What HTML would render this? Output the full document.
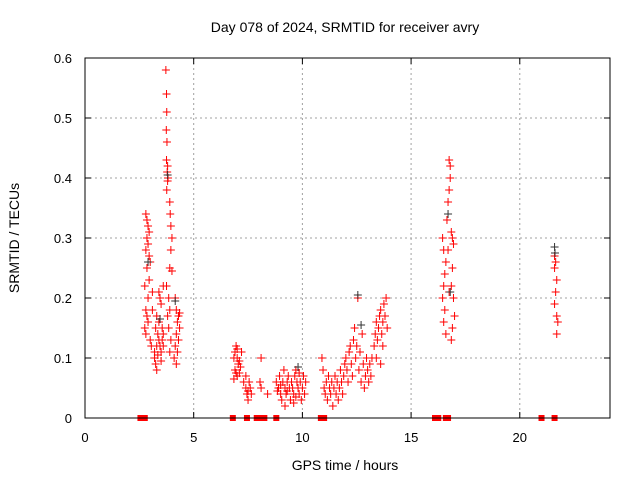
<!DOCTYPE html>
<html><head><meta charset="utf-8"><style>
body{margin:0;background:#fff}
svg{display:block;font-family:"Liberation Sans",sans-serif}
</style></head><body>
<svg id="chart" width="640" height="480">
<text x="345" y="32" font-size="14" text-anchor="middle">Day 078 of 2024, SRMTID for receiver avry</text>
<text x="345" y="470" font-size="14" text-anchor="middle">GPS time / hours</text>
<text transform="translate(19,238) rotate(-90)" font-size="14" text-anchor="middle">SRMTID / TECUs</text>
<g id="grid"></g>
<g id="ticks"></g>
<g id="marks"></g>
<g id="marksB"></g>
<rect x="85" y="58" width="525" height="360" fill="none" stroke="#000"/>
</svg>
<script>
const xTicks=[0,5,10,15,20];
const yTicks=[0,0.1,0.2,0.3,0.4,0.5,0.6];
const yTickLabels=["0","0.1","0.2","0.3","0.4","0.5","0.6"];
const zeroHours=[2.55,2.65,2.75,6.8,7.45,7.9,8.05,8.25,8.8,10.85,11.0,16.1,16.25,16.6,16.7,21.0,21.6];
const redPoints=[
[2.8,0.34],[2.85,0.33],[2.9,0.32],[2.95,0.31],[2.85,0.3],[2.9,0.29],[2.8,0.28],[2.95,0.27],[2.85,0.25],[2.95,0.23],[2.75,0.22],[2.9,0.2],[2.8,0.18],[2.85,0.17],[2.9,0.16],[2.75,0.15],[2.8,0.14],[3.0,0.13],[3.05,0.12],[3.0,0.26],[3.1,0.21],[3.1,0.18],
[3.2,0.1],[3.25,0.09],[3.3,0.08],[3.2,0.11],[3.3,0.12],[3.4,0.13],[3.35,0.14],[3.25,0.15],[3.4,0.16],[3.3,0.17],[3.45,0.12],[3.5,0.11],[3.55,0.13],[3.5,0.19],[3.4,0.21],[3.6,0.22],[3.45,0.2],[3.55,0.15],[3.6,0.14],[3.35,0.105],[3.5,0.095],[3.6,0.12],
[3.72,0.58],[3.75,0.54],[3.76,0.51],[3.74,0.48],[3.77,0.46],[3.75,0.43],[3.8,0.42],[3.78,0.41],[3.82,0.4],[3.8,0.395],[3.76,0.38],
[3.9,0.36],[3.92,0.34],[3.95,0.32],[4.0,0.3],[3.95,0.28],[3.9,0.25],[4.0,0.245],[3.85,0.2],[3.9,0.18],[3.85,0.15],[3.95,0.13],[3.9,0.11],[3.8,0.17],[3.75,0.22],
[4.15,0.2],[4.2,0.18],[4.3,0.17],[4.25,0.16],[4.35,0.15],[4.2,0.14],[4.3,0.13],[4.15,0.12],[4.25,0.11],[4.1,0.1],[4.2,0.09],[4.35,0.175],
[6.85,0.1],[6.9,0.11],[6.95,0.12],[7.0,0.1],[7.05,0.09],[6.9,0.08],[7.0,0.07],[7.1,0.075],[6.85,0.065],[7.15,0.085],[7.2,0.11],[7.1,0.095],[7.0,0.115],[6.95,0.075],
[7.3,0.06],[7.4,0.05],[7.45,0.04],[7.5,0.03],[7.55,0.06],[7.6,0.05],[7.4,0.07],[7.5,0.045],[7.65,0.04],[8.1,0.1],[8.05,0.06],[8.1,0.05],[8.4,0.04],
[8.8,0.06],[8.9,0.05],[8.95,0.07],[9.0,0.04],[9.05,0.03],[9.1,0.06],[9.15,0.08],[9.2,0.05],[9.25,0.04],[9.3,0.06],[9.35,0.07],[9.4,0.05],[9.45,0.03],[9.5,0.06],[9.55,0.05],[9.6,0.04],[9.65,0.07],[9.7,0.08],[9.75,0.06],[9.8,0.05],[9.85,0.04],[9.9,0.06],[9.95,0.03],[10.0,0.05],[10.1,0.04],[10.15,0.06],[9.2,0.02],[9.6,0.025],[9.0,0.055],[9.3,0.045],[9.7,0.035],[10.05,0.07],[9.85,0.075],[8.85,0.045],
[10.9,0.1],[10.95,0.08],[11.0,0.05],[11.05,0.04],[11.1,0.06],[11.15,0.03],[11.2,0.07],[11.25,0.05],[11.3,0.04],[11.35,0.06],[11.4,0.02],[11.45,0.05],[11.5,0.07],[11.55,0.04],[11.6,0.06],[11.65,0.03],[11.7,0.05],[11.75,0.08],[11.8,0.06],[11.85,0.04],[11.9,0.07],[11.95,0.09],[12.0,0.1],[12.05,0.08],[12.1,0.06],[12.15,0.11],[12.2,0.12],[12.25,0.09],[12.3,0.07],[12.35,0.13],[12.4,0.15],[12.45,0.1],[12.5,0.12],[12.55,0.2],[12.6,0.08],[12.65,0.11],[12.7,0.06],[12.75,0.14],[12.8,0.09],[12.85,0.05],[12.9,0.07],[12.95,0.1],[13.0,0.08],[13.05,0.06],[13.1,0.09],[13.15,0.07],[13.2,0.1],
[13.3,0.12],[13.35,0.14],[13.4,0.16],[13.45,0.13],[13.5,0.15],[13.55,0.17],[13.6,0.18],[13.65,0.14],[13.7,0.16],[13.75,0.19],[13.8,0.17],[13.85,0.2],[13.4,0.1],[13.6,0.09],[13.7,0.12],[13.9,0.15],
[16.45,0.3],[16.5,0.28],[16.55,0.24],[16.5,0.22],[16.45,0.2],[16.55,0.18],[16.5,0.16],[16.6,0.14],[16.6,0.26],[16.65,0.33],[16.7,0.36],[16.75,0.38],[16.75,0.43],[16.8,0.42],[16.8,0.4],[16.85,0.31],[16.9,0.3],[16.95,0.29],[16.9,0.25],[16.85,0.22],[16.95,0.2],[17.0,0.17],[16.9,0.15],[16.85,0.13],[16.7,0.28],[16.75,0.21],
[21.6,0.27],[21.65,0.26],[21.6,0.25],[21.7,0.23],[21.65,0.21],[21.6,0.19],[21.7,0.17],[21.75,0.16],[21.7,0.14]];
const blackPoints=[[2.9,0.26],[3.45,0.165],[3.8,0.405],[4.15,0.195],[9.8,0.085],[12.55,0.205],[12.7,0.155],[16.7,0.34],[16.8,0.21],[21.6,0.285],[21.62,0.275]];
const NS="http://www.w3.org/2000/svg";
const X0=85,X1=610,Y0=418,Y1=58;
const xs=h=>X0+(X1-X0)*h/24.15;
const ys=v=>Y0-(Y0-Y1)*v/0.6;
function mk(tag,attrs){const e=document.createElementNS(NS,tag);for(const k in attrs)e.setAttribute(k,attrs[k]);return e;}
const grid=document.getElementById('grid'),ticks=document.getElementById('ticks');
xTicks.forEach(t=>{const x=xs(t);
 if(t>0){const g=mk('line',{x1:x,x2:x,y1:Y1,y2:Y0,stroke:'#a0a0a0','stroke-dasharray':'2,3'});
 
 grid.appendChild(g);}
 ticks.appendChild(mk('line',{x1:x,x2:x,y1:Y0,y2:Y0-6,stroke:'#000'}));
 ticks.appendChild(mk('line',{x1:x,x2:x,y1:Y1,y2:Y1+6,stroke:'#000'}));
 const l=mk('text',{x:x,y:Y0+24,'font-size':13,'text-anchor':'middle'});l.textContent=t;
 
 ticks.appendChild(l);});
yTicks.forEach((t,i)=>{const y=ys(t);
 if(t>0&&t<0.6){const g=mk('line',{x1:X0,x2:X1,y1:y,y2:y,stroke:'#a0a0a0','stroke-dasharray':'2,3'});
 
 grid.appendChild(g);}
 ticks.appendChild(mk('line',{x1:X0,x2:X0+6,y1:y,y2:y,stroke:'#000'}));
 ticks.appendChild(mk('line',{x1:X1,x2:X1-6,y1:y,y2:y,stroke:'#000'}));
 const l=mk('text',{x:X0-13,y:y+5,'font-size':13,'text-anchor':'end'});l.textContent=yTickLabels[i];
 
 ticks.appendChild(l);});
function plus(g,h,v,col){const x=xs(h),y=ys(v);
 const p=mk('path',{d:`M${x-4} ${y}H${x+4}M${x} ${y-4}V${y+4}`,stroke:col,'stroke-width':1,fill:'none'});
 
 g.appendChild(p);}
const m=document.getElementById('marks'),mb=document.getElementById('marksB');
blackPoints.forEach(p=>plus(mb,p[0],p[1],'#333'));
redPoints.forEach(p=>plus(m,p[0],p[1],'#ff0000'));
zeroHours.forEach(h=>{const r=mk('rect',{x:xs(h)-3,y:Y0-3,width:6,height:6,fill:'#ff0000'});
 
 m.appendChild(r);});
</script>
</body></html>
